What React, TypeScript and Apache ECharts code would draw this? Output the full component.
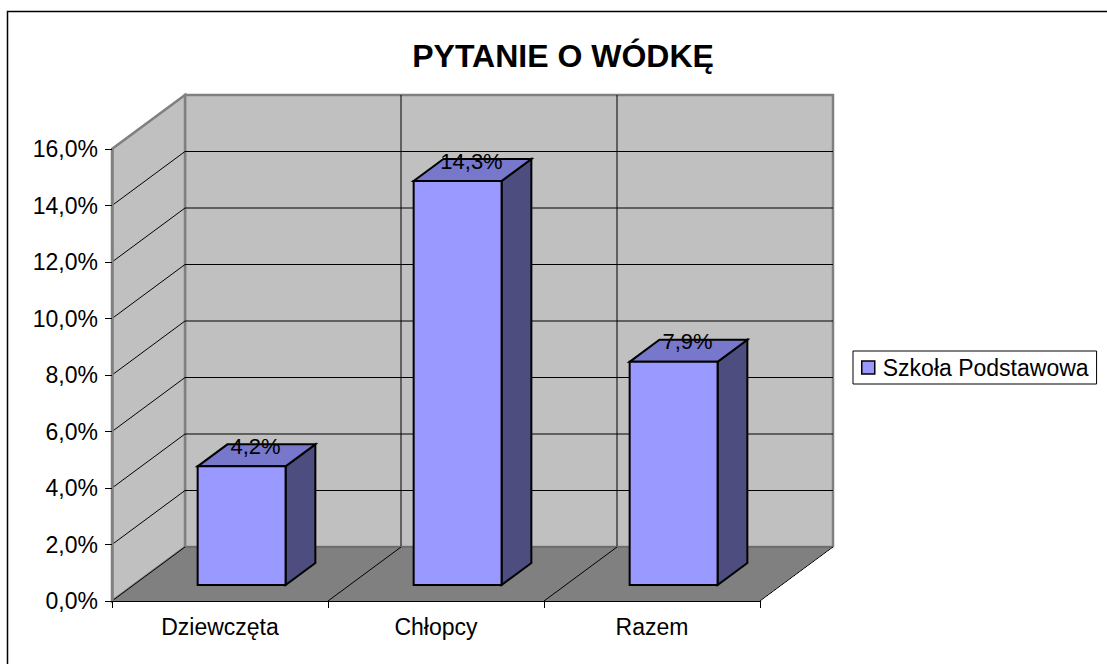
import React, { useEffect, useRef } from "react";
import * as echarts from "echarts";

const TITLE = "PYTANIE O WÓDKĘ";
const CATEGORIES = ["Dziewczęta", "Chłopcy", "Razem"];
const VALUES = [4.2, 14.3, 7.9];
const SERIES_NAME = "Szkoła Podstawowa";
const Y_MIN = 0;
const Y_MAX = 16;
const Y_STEP = 2;

const FONT = "'Liberation Sans', Arial, sans-serif";
const DX = 73;
const DY = -54;
const BAR_FRONT = 0.296;
const BAR_BACK = 0.704;
const BAR_WIDTH = 0.407;

const fmt = (v: number) => v.toFixed(1).replace(".", ",") + "%";

export default function App() {
  const ref = useRef<HTMLDivElement>(null);
  useEffect(() => {
    if (!ref.current) return;
    const chart = echarts.init(ref.current, null, { renderer: "svg" });
    const nT = Math.round((Y_MAX - Y_MIN) / Y_STEP);
    const n = CATEGORIES.length;

    const wallsRender = (_params: any, api: any) => {
      const bw = api.size([1, 0])[0];
      const p0 = api.coord([0, Y_MIN]);
      const pN = api.coord([n - 1, Y_MIN]);
      const L = p0[0] - bw / 2;
      const R = pN[0] + bw / 2;
      const B = p0[1];
      const T = api.coord([0, Y_MAX])[1];
      const children: any[] = [];
      const line = (x1: number, y1: number, x2: number, y2: number, stroke = "#000", lw = 1) => ({
        type: "line",
        shape: { x1, y1, x2, y2 },
        style: { stroke, lineWidth: lw },
      });
      children.push({
        type: "rect",
        shape: { x: L + DX, y: T + DY, width: R - L, height: B - T },
        style: { fill: "#C0C0C0", stroke: "#808080", lineWidth: 2.5 },
      });
      children.push({
        type: "polygon",
        shape: { points: [[L, B], [L + DX, B + DY], [L + DX, T + DY], [L, T]] },
        style: { fill: "#C0C0C0", stroke: "#808080", lineWidth: 2.5 },
      });
      for (let i = 1; i < nT; i++) {
        const y = api.coord([0, Y_MIN + i * Y_STEP])[1];
        children.push(line(L, y, L + DX, y + DY));
        children.push(line(L + DX, y + DY, R + DX, y + DY));
      }
      for (let k = 1; k < n; k++) {
        const x = L + k * bw + DX;
        children.push(line(x, T + DY, x, B + DY));
      }
      children.push({
        type: "polygon",
        shape: { points: [[L, B], [R, B], [R + DX, B + DY], [L + DX, B + DY]] },
        style: { fill: "#808080" },
      });
      children.push(line(L + DX, B + DY, R + DX, B + DY, "#6e6e6e", 2));
      children.push(line(L, B, L + DX, B + DY));
      children.push(line(R, B, R + DX, B + DY));
      children.push(line(R + 1.5, B, R + DX + 1.5, B + DY, "#fff", 1));
      for (let k = 1; k < n; k++) {
        const x = L + k * bw;
        children.push(line(x, B, x + DX, B + DY));
      }
      return { type: "group", children };
    };

    const barRender = (_params: any, api: any) => {
      const idx = api.value(0);
      const val = api.value(1);
      const bw = api.size([1, 0])[0];
      const top = api.coord([idx, val]);
      const base = api.coord([idx, Y_MIN]);
      const w = bw * BAR_WIDTH;
      const xl = top[0] - w / 2;
      const xr = top[0] + w / 2;
      const yv = top[1];
      const y0 = base[1];
      const fx = DX * BAR_FRONT;
      const fy = DY * BAR_FRONT;
      const bx = DX * BAR_BACK;
      const by = DY * BAR_BACK;
      const stroke = { stroke: "#000", lineWidth: 2, lineJoin: "miter" };
      return {
        type: "group",
        children: [
          {
            type: "polygon",
            shape: { points: [[xr + fx, yv + fy], [xr + bx, yv + by], [xr + bx, y0 + by], [xr + fx, y0 + fy]] },
            style: { fill: "#4D4D80", ...stroke },
          },
          {
            type: "polygon",
            shape: { points: [[xl + fx, yv + fy], [xr + fx, yv + fy], [xr + bx, yv + by], [xl + bx, yv + by]] },
            style: { fill: "#7777CC", ...stroke },
          },
          {
            type: "polygon",
            shape: { points: [[xl + fx, yv + fy], [xr + fx, yv + fy], [xr + fx, y0 + fy], [xl + fx, y0 + fy]] },
            style: { fill: "#9999FF", ...stroke },
          },
          {
            type: "text",
            style: {
              text: fmt(val),
              x: top[0] + (fx + bx) / 2 - 1,
              y: yv + (fy + by) / 2 + 2,
              align: "center",
              verticalAlign: "bottom",
              fontSize: 22,
              fontFamily: FONT,
              fill: "#000",
            },
          },
        ],
      };
    };

    chart.setOption({
      animation: false,
      backgroundColor: "#fff",
      grid: { left: 112, right: 347, top: 149, bottom: 63, containLabel: false },
      xAxis: {
        type: "category",
        data: CATEGORIES,
        boundaryGap: true,
        axisLine: { show: true, lineStyle: { color: "#000", width: 1 } },
        axisTick: { show: true, length: 7, interval: 0, alignWithLabel: false, lineStyle: { color: "#000" } },
        axisLabel: { fontSize: 23, fontFamily: FONT, color: "#000", margin: 14, interval: 0 },
        splitLine: { show: false },
        z: 5,
      },
      yAxis: {
        type: "value",
        min: Y_MIN,
        max: Y_MAX,
        interval: Y_STEP,
        axisLine: { show: true, lineStyle: { color: "#808080", width: 2.5 } },
        axisTick: { show: true, length: 7, lineStyle: { color: "#000" } },
        axisLabel: { fontSize: 23, fontFamily: FONT, color: "#000", margin: 14, formatter: (v: number) => fmt(v) },
        splitLine: { show: false },
        z: 5,
      },
      legend: {
        show: true,
        selectedMode: false,
        orient: "vertical",
        left: 853,
        top: 351,
        borderColor: "#000",
        borderWidth: 1,
        padding: [5, 8, 5, 8],
        itemWidth: 13,
        itemHeight: 13,
        data: [
          { name: SERIES_NAME, icon: "rect", itemStyle: { color: "#9999FF", borderColor: "#000", borderWidth: 1.5 } },
        ],
        textStyle: { fontSize: 23, fontFamily: FONT, color: "#000", padding: [0, 0, 0, 3] },
      },
      graphic: [
        {
          type: "rect",
          silent: true,
          z: -10,
          shape: { x: 7.5, y: 11.5, width: 1200, height: 800 },
          style: { fill: "none", stroke: "#000", lineWidth: 1.5 },
        },
        {
          type: "text",
          x: 563,
          y: 56,
          style: {
            text: TITLE,
            fontSize: 32,
            fontWeight: "bold",
            fontFamily: FONT,
            fill: "#000",
            align: "center",
            verticalAlign: "middle",
          },
        },
      ],
      series: [
        {
          type: "custom",
          name: "walls",
          silent: true,
          z: 1,
          renderItem: wallsRender,
          data: [[0, Y_MIN]],
          encode: { x: 0, y: 1 },
        },
        {
          type: "custom",
          name: SERIES_NAME,
          z: 3,
          itemStyle: { color: "#9999FF" },
          renderItem: barRender,
          data: VALUES.map((v, i) => [i, v]),
          encode: { x: 0, y: 1 },
        },
      ],
    });
    return () => chart.dispose();
  }, []);
  return <div ref={ref} style={{ position: "fixed", left: 0, top: 0, width: 1107, height: 664 }} />;
}
